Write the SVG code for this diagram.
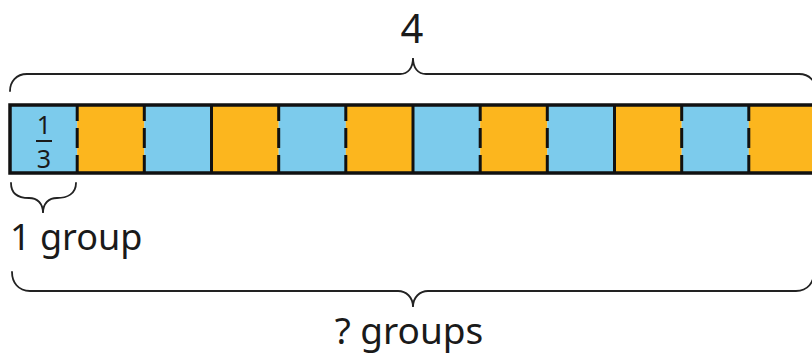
<svg xmlns="http://www.w3.org/2000/svg" width="812" height="356" viewBox="0 0 812 356">
<style>
.t{font-family:"Noto Sans","Open Sans",sans-serif;fill:#1a1a1a}
.b{fill:#7ccbec}
.o{fill:#fcb61e}
.br{fill:none;stroke:#222;stroke-width:1.8;stroke-linecap:round}
.s{stroke:#111;stroke-width:3}
.d{stroke:#111;stroke-width:3;stroke-dasharray:16 7 20 7 20}
</style>
<rect width="812" height="356" fill="#fff"/>
<g id="bar">
<rect class="b" x="10" y="105" width="67.2" height="68"/>
<rect class="o" x="77.2" y="105" width="67.2" height="68"/>
<rect class="b" x="144.3" y="105" width="67.2" height="68"/>
<rect class="o" x="211.5" y="105" width="67.2" height="68"/>
<rect class="b" x="278.7" y="105" width="67.2" height="68"/>
<rect class="o" x="345.8" y="105" width="67.2" height="68"/>
<rect class="b" x="413" y="105" width="67.2" height="68"/>
<rect class="o" x="480.2" y="105" width="67.2" height="68"/>
<rect class="b" x="547.3" y="105" width="67.2" height="68"/>
<rect class="o" x="614.5" y="105" width="67.2" height="68"/>
<rect class="b" x="681.7" y="105" width="67.2" height="68"/>
<rect class="o" x="748.8" y="105" width="67.2" height="68"/>
<line class="d" x1="77.2" y1="105" x2="77.2" y2="173"/>
<line class="d" x1="144.3" y1="105" x2="144.3" y2="173"/>
<line class="s" x1="211.5" y1="105" x2="211.5" y2="173"/>
<line class="d" x1="278.7" y1="105" x2="278.7" y2="173"/>
<line class="d" x1="345.8" y1="105" x2="345.8" y2="173"/>
<line class="s" x1="413" y1="105" x2="413" y2="173"/>
<line class="d" x1="480.2" y1="105" x2="480.2" y2="173"/>
<line class="d" x1="547.3" y1="105" x2="547.3" y2="173"/>
<line class="s" x1="614.5" y1="105" x2="614.5" y2="173"/>
<line class="d" x1="681.7" y1="105" x2="681.7" y2="173"/>
<line class="d" x1="748.8" y1="105" x2="748.8" y2="173"/>
<rect x="10" y="105" width="806" height="68" fill="none" stroke="#111" stroke-width="3.5"/>
</g>
<g id="fraction">
<text class="t" x="44" y="134" font-size="25" text-anchor="middle">1</text>
<line x1="36" y1="141" x2="52" y2="141" stroke="#1a1a1a" stroke-width="2"/>
<text class="t" x="44" y="168" font-size="25" text-anchor="middle">3</text>
</g>
<g id="braces">
<path class="br" d="M10,91 C10,82 16,74 27,74 L400,74 C408,74 413,68 413,58 C413,68 418,74 426,74 L799,74 C810,74 816,82 816,91"/>
<path class="br" d="M11,183 C11,194 19,198 29,198 C37,198 43,203 43,213 C43,203 49,198 57,198 C67,198 76,194 76,183"/>
<path class="br" d="M12,272 C12,282 18,291 30,291 L398,291 C406,291 413,297 413,307 C413,297 420,291 428,291 L796,291 C808,291 814,282 814,272"/>
</g>
<g id="labels">
<text class="t" x="412" y="43" font-size="40" text-anchor="middle">4</text>
<text class="t" x="10" y="250" font-size="36">1 group</text>
<text class="t" x="409" y="344" font-size="37" text-anchor="middle">? groups</text>
</g>
</svg>
